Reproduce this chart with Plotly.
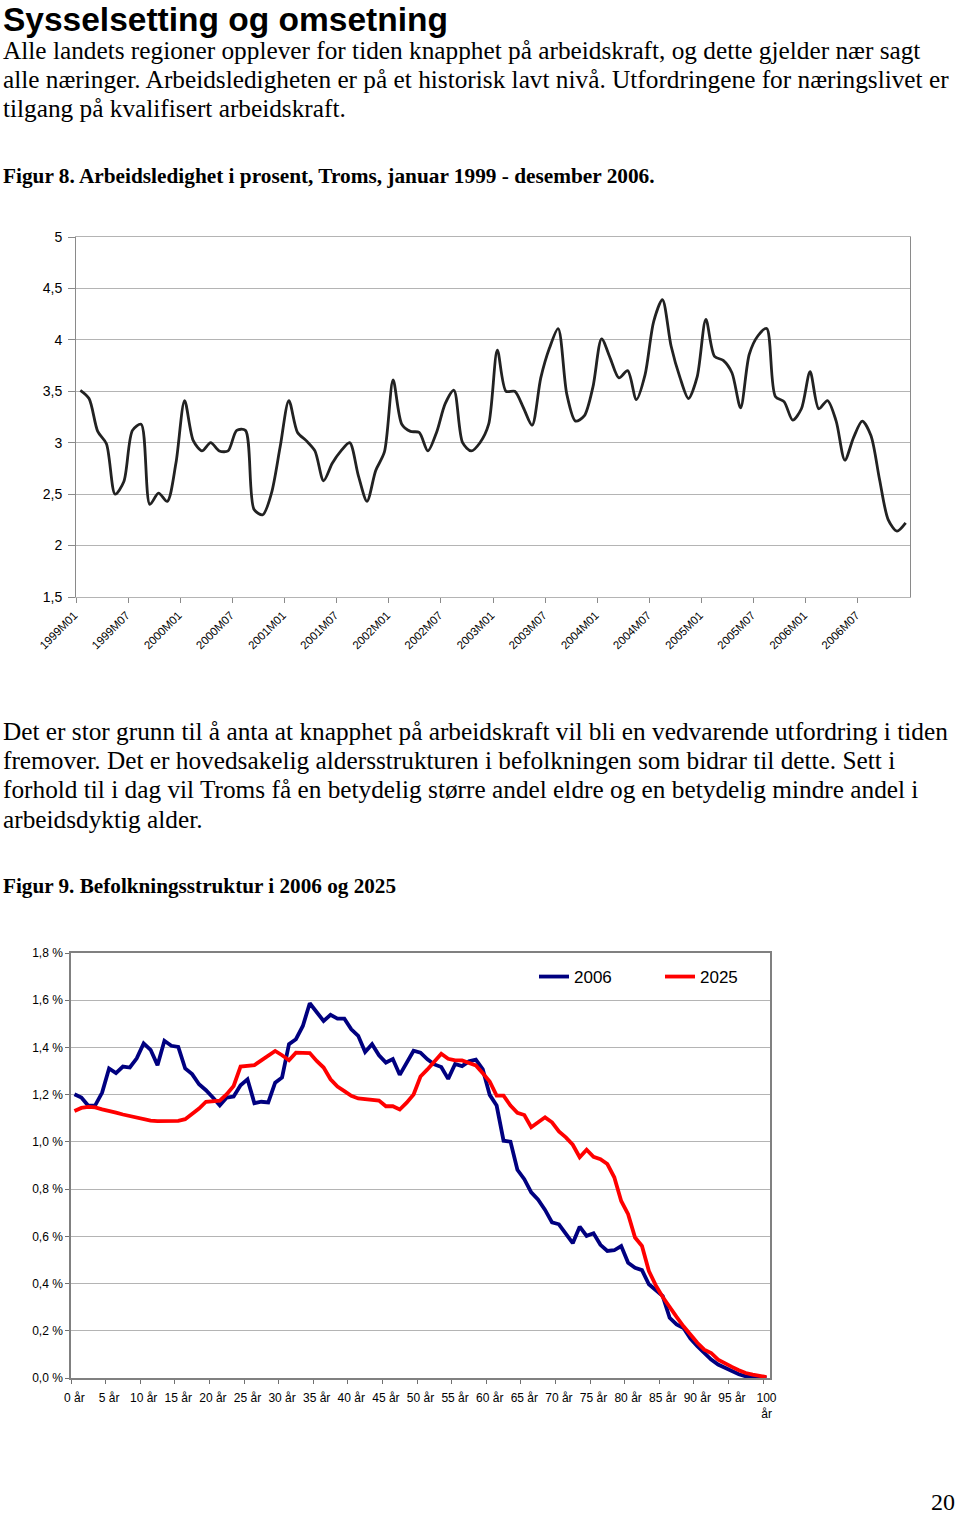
import plotly.graph_objects as go

W, H = 960, 1515

# ---------------- Data ----------------
months = [f"{y}M{m:02d}" for y in range(1999, 2007) for m in range(1, 13)]
unemployment = [
    3.51, 3.43, 3.11, 2.99, 2.50, 2.62, 3.12, 3.18, 2.40, 2.51, 2.43, 2.80,
    3.41, 3.02, 2.92, 3.00, 2.92, 2.92, 3.12, 3.12, 2.35, 2.30, 2.51, 2.96,
    3.41, 3.10, 3.02, 2.92, 2.63, 2.80, 2.92, 3.00, 2.68, 2.43, 2.73, 2.91,
    3.61, 3.18, 3.11, 3.10, 2.92, 3.10, 3.38, 3.51, 3.00, 2.92, 3.00, 3.18,
    3.90, 3.50, 3.50, 3.34, 3.17, 3.63, 3.92, 4.11, 3.47, 3.21, 3.26, 3.54,
    4.01, 3.82, 3.63, 3.70, 3.42, 3.66, 4.18, 4.39, 3.94, 3.64, 3.43, 3.64,
    4.20, 3.84, 3.80, 3.68, 3.34, 3.86, 4.04, 4.11, 3.45, 3.40, 3.22, 3.33,
    3.69, 3.33, 3.41, 3.21, 2.83, 3.05, 3.21, 3.07, 2.64, 2.25, 2.14, 2.22,
]
y1_ticks = [1.5, 2, 2.5, 3, 3.5, 4, 4.5, 5]
y1_labels = ["1,5", "2", "2,5", "3", "3,5", "4", "4,5", "5"]

ages = [f"{a} år" if a < 100 else "100<br>år" for a in range(101)]
pop_2006 = [
    1.202, 1.188, 1.153, 1.155, 1.209, 1.311, 1.291, 1.319, 1.315, 1.354,
    1.417, 1.390, 1.325, 1.428, 1.407, 1.402, 1.311, 1.287, 1.244, 1.219,
    1.188, 1.155, 1.188, 1.192, 1.240, 1.265, 1.164, 1.170, 1.167, 1.251,
    1.273, 1.414, 1.435, 1.491, 1.587, 1.548, 1.512, 1.538, 1.522, 1.522,
    1.477, 1.449, 1.381, 1.414, 1.367, 1.336, 1.351, 1.284, 1.334, 1.386,
    1.378, 1.350, 1.328, 1.317, 1.267, 1.330, 1.321, 1.341, 1.348, 1.307,
    1.199, 1.154, 1.005, 1.001, 0.882, 0.842, 0.786, 0.755, 0.712, 0.659,
    0.651, 0.613, 0.571, 0.641, 0.602, 0.613, 0.564, 0.538, 0.541, 0.559,
    0.488, 0.467, 0.457, 0.397, 0.372, 0.347, 0.255, 0.227, 0.212, 0.167,
    0.135, 0.106, 0.078, 0.057, 0.044, 0.028, 0.016, 0.007, 0.003, 0.001,
    0.000,
]
pop_2025 = [
    1.131, 1.144, 1.148, 1.146, 1.138, 1.133, 1.124, 1.116, 1.109, 1.102,
    1.095, 1.090, 1.088, 1.088, 1.088, 1.089, 1.096, 1.117, 1.141, 1.170,
    1.171, 1.175, 1.202, 1.237, 1.319, 1.322, 1.325, 1.345, 1.364, 1.385,
    1.367, 1.346, 1.378, 1.378, 1.376, 1.343, 1.315, 1.265, 1.234, 1.215,
    1.195, 1.184, 1.181, 1.178, 1.175, 1.151, 1.151, 1.137, 1.166, 1.201,
    1.277, 1.307, 1.340, 1.373, 1.352, 1.345, 1.345, 1.335, 1.324, 1.291,
    1.256, 1.196, 1.196, 1.154, 1.123, 1.114, 1.062, 1.083, 1.104, 1.083,
    1.044, 1.019, 0.988, 0.935, 0.967, 0.937, 0.927, 0.906, 0.850, 0.750,
    0.694, 0.595, 0.559, 0.453, 0.392, 0.343, 0.304, 0.259, 0.219, 0.183,
    0.149, 0.120, 0.106, 0.078, 0.061, 0.047, 0.033, 0.021, 0.014, 0.010,
    0.004,
]
y2_ticks = [0, 0.2, 0.4, 0.6, 0.8, 1.0, 1.2, 1.4, 1.6, 1.8]
y2_labels = ["0,0 %", "0,2 %", "0,4 %", "0,6 %", "0,8 %", "1,0 %",
             "1,2 %", "1,4 %", "1,6 %", "1,8 %"]

title = "Sysselsetting og omsetning"
para1 = [
    "Alle landets regioner opplever for tiden knapphet på arbeidskraft, og dette gjelder nær sagt",
    "alle næringer. Arbeidsledigheten er på et historisk lavt nivå. Utfordringene for næringslivet er",
    "tilgang på kvalifisert arbeidskraft.",
]
caption1 = "Figur 8. Arbeidsledighet i prosent, Troms, januar 1999 - desember 2006."
para2 = [
    "Det er stor grunn til å anta at knapphet på arbeidskraft vil bli en vedvarende utfordring i tiden",
    "fremover. Det er hovedsakelig aldersstrukturen i befolkningen som bidrar til dette. Sett i",
    "forhold til i dag vil Troms få en betydelig større andel eldre og en betydelig mindre andel i",
    "arbeidsdyktig alder.",
]
caption2 = "Figur 9. Befolkningsstruktur i 2006 og 2025"
page_no = "20"

# ---------------- Helpers ----------------
def px_x(x):
    return x / W

def px_y(y):
    return 1 - y / H

SANS = "Liberation Sans, Arial, sans-serif"
SERIF = "Liberation Serif, Times New Roman, serif"
GRID = "#b4b4b4"
AXIS = "#8a8a8a"

fig = go.Figure()

fig.add_trace(go.Scatter(
    x=months, y=unemployment, mode="lines",
    line=dict(color="#222222", width=2.8, shape="spline", smoothing=0.8),
    xaxis="x", yaxis="y", showlegend=False, hoverinfo="skip",
))
fig.add_trace(go.Scatter(
    x=ages, y=pop_2006, mode="lines", name="2006",
    line=dict(color="#000080", width=3.8),
    xaxis="x2", yaxis="y2",
))
fig.add_trace(go.Scatter(
    x=ages, y=pop_2025, mode="lines", name="2025",
    line=dict(color="#ff0000", width=3.8),
    xaxis="x2", yaxis="y2",
))

annotations = []

def text(x, y, s, size, family, bold=False, anchor="left", yanchor="middle"):
    annotations.append(dict(
        x=px_x(x), y=px_y(y), xref="paper", yref="paper",
        text=f"<b>{s}</b>" if bold else s, showarrow=False,
        xanchor=anchor, yanchor=yanchor,
        borderpad=0, font=dict(family=family, size=size, color="#000000"),
    ))

text(2, 0, title, 33.5, SANS, bold=True, yanchor="top")
for i, line in enumerate(para1):
    text(2, 50 + 29 * i, line, 25.3, SERIF)
text(2, 176, caption1, 21.3, SERIF, bold=True)
for i, line in enumerate(para2):
    text(2, 731 + 29.2 * i, line, 25.3, SERIF)
text(2, 886, caption2, 21.2, SERIF, bold=True)
text(956, 1502, page_no, 24, SERIF, anchor="right")

fig.update_layout(
    template="plotly_white",
    width=W, height=H, autosize=False,
    margin=dict(l=0, r=0, t=0, b=0, pad=0, autoexpand=False),
    paper_bgcolor="white", plot_bgcolor="white",
    font=dict(family=SANS, color="#000000"),
    annotations=annotations,
    xaxis=dict(
        domain=[px_x(76), px_x(910)], anchor="y", automargin=False,
        type="category", range=[-0.5, 95.5],
        tickmode="linear", tick0=0, dtick=6, tickson="boundaries",
        tickangle=-45, tickfont=dict(size=11.5, family=SANS, color="#000"),
        ticklabelshift=-6, ticklabelstandoff=6,
        ticks="outside", ticklen=5, tickcolor=AXIS,
        showgrid=False, showline=True, linecolor=GRID, mirror=True,
        zeroline=False, fixedrange=True,
    ),
    yaxis=dict(
        domain=[px_y(597), px_y(237)], anchor="x", automargin=False,
        range=[1.5, 5], tickmode="array", tickvals=y1_ticks, ticktext=y1_labels,
        tickfont=dict(size=14, family=SANS, color="#000"),
        ticklabelstandoff=3,
        ticks="outside", ticklen=7, tickcolor=AXIS,
        showgrid=True, gridcolor=GRID, gridwidth=1,
        showline=True, linecolor=AXIS, linewidth=1, mirror=True,
        zeroline=False, fixedrange=True,
    ),
    xaxis2=dict(
        domain=[px_x(71), px_x(770)], anchor="y2", automargin=False,
        type="category", range=[-0.5, 100.5],
        tickmode="linear", tick0=0, dtick=5, tickson="boundaries",
        tickangle=0, tickfont=dict(size=12, family=SANS, color="#000"),
        ticklabelstandoff=8,
        ticks="outside", ticklen=4, tickcolor="#707070",
        showgrid=False, showline=True, linecolor="#808080", linewidth=1.5,
        mirror=True, zeroline=False, fixedrange=True,
    ),
    yaxis2=dict(
        domain=[px_y(1378), px_y(953)], anchor="x2", automargin=False,
        range=[0, 1.8], tickmode="array", tickvals=y2_ticks, ticktext=y2_labels,
        tickfont=dict(size=12, family=SANS, color="#000"),
        ticks="outside", ticklen=4, tickcolor="#707070",
        showgrid=True, gridcolor=GRID, gridwidth=1,
        showline=True, linecolor="#808080", linewidth=1.5, mirror=True,
        zeroline=False, fixedrange=True,
    ),
    legend=dict(
        orientation="h", x=px_x(534), y=px_y(977),
        xanchor="left", yanchor="middle",
        font=dict(size=17, family=SANS, color="#000"), bgcolor="rgba(0,0,0,0)",
        entrywidth=81, entrywidthmode="pixels",
        itemclick=False, itemdoubleclick=False,
    ),
)

fig.write_html(
    "out.html",
    config={"displayModeBar": False},
    post_script="document.body.style.margin='0';document.body.style.padding='0';",
)
